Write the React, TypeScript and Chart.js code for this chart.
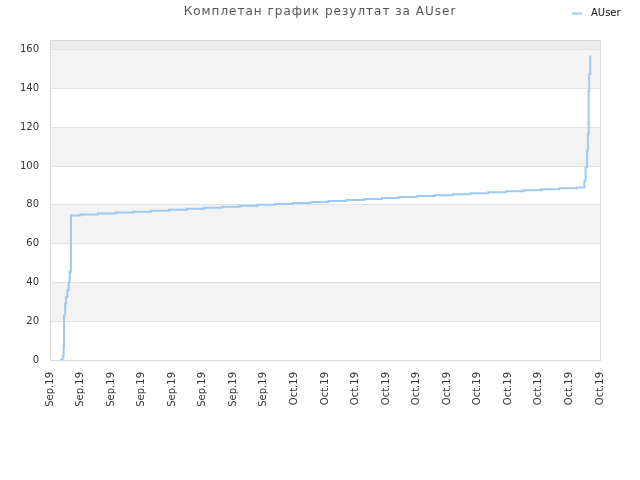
import React, { useEffect, useRef } from 'react';
import { Chart, registerables } from 'chart.js';

Chart.register(...registerables);

const titleText = 'Комплетан график резултат за AUser';
const seriesName = 'AUser';

// x axis is in days from the left edge of the chart
const tickLabels = [
  'Sep.19', 'Sep.19', 'Sep.19', 'Sep.19', 'Sep.19', 'Sep.19', 'Sep.19', 'Sep.19',
  'Oct.19', 'Oct.19', 'Oct.19', 'Oct.19', 'Oct.19', 'Oct.19', 'Oct.19', 'Oct.19',
  'Oct.19', 'Oct.19', 'Oct.19',
];
const yTicks = [0, 20, 40, 60, 80, 100, 120, 140, 160];

// first climb
const riseDays = [0.56, 0.72, 0.77, 0.79, 0.85, 0.9, 0.98, 1.05, 1.11, 1.18];
const riseValues = [0, 2, 7, 23, 29, 32.5, 36, 40, 45.5, 74.5];

// slow daily growth
const dailyDays = [
  1.7, 2.7, 3.7, 4.7, 5.7, 6.7, 7.7, 8.7, 9.7, 10.7, 11.7, 12.7, 13.7, 14.7, 15.7,
  16.7, 17.7, 18.7, 19.7, 20.7, 21.7, 22.7, 23.7, 24.7, 25.7, 26.7, 27.7, 28.7, 29.7,
];
const dailyValues = [
  75, 75.5, 76, 76.5, 77, 77.5, 78, 78.5, 79, 79.5, 80, 80.5, 81, 81.5, 82,
  82.5, 83, 83.5, 84, 84.5, 85, 85.5, 86, 86.5, 87, 87.5, 88, 88.5, 89,
];

// final jump
const finalDays = [30.12, 30.19, 30.27, 30.32, 30.36, 30.39, 30.45];
const finalValues = [92.6, 99.4, 108, 116.7, 139, 147.5, 157];

const yMin = 0;
const yMax = 165;
const xMin = 0;
const xMax = 31;

const lineColor = '#9dc9f3';

const toPoints = (days, values) => days.map((d, i) => ({ x: d, y: values[i] }));

// alternating bands, frame, title and legend
const decorPlugin = {
  id: 'decor',
  beforeDraw(chart) {
    const { ctx, chartArea, scales } = chart;
    const y = scales.y;
    const w = chartArea.right - chartArea.left;
    ctx.save();
    for (let i = 1; i < yTicks.length - 1; i += 2) {
      const top = y.getPixelForValue(yTicks[i + 1]);
      const bottom = y.getPixelForValue(yTicks[i]);
      ctx.fillStyle = '#f3f3f3';
      ctx.fillRect(chartArea.left, top, w, bottom - top);
    }
    const last = yTicks[yTicks.length - 1];
    if (last < yMax) {
      const top = y.getPixelForValue(yMax);
      const bottom = y.getPixelForValue(last);
      ctx.fillStyle = '#ececec';
      ctx.fillRect(chartArea.left, top, w, bottom - top);
    }
    ctx.restore();
  },
  beforeDatasetsDraw(chart) {
    const { ctx, chartArea } = chart;
    ctx.save();
    ctx.strokeStyle = '#d9d9d9';
    ctx.lineWidth = 1;
    ctx.strokeRect(
      Math.round(chartArea.left) + 0.5,
      Math.round(chartArea.top) + 0.5,
      Math.round(chartArea.right - chartArea.left),
      Math.round(chartArea.bottom - chartArea.top)
    );
    ctx.restore();
  },
  afterDraw(chart) {
    const { ctx } = chart;
    ctx.save();
    ctx.textBaseline = 'middle';
    ctx.fillStyle = '#555555';
    ctx.font = '12px "DejaVu Sans"';
    ctx.letterSpacing = '1px';
    ctx.textAlign = 'center';
    ctx.fillText(titleText, 320, 12);

    ctx.letterSpacing = '0px';
    ctx.strokeStyle = lineColor;
    ctx.lineWidth = 2;
    ctx.beginPath();
    ctx.moveTo(572, 13.5);
    ctx.lineTo(582, 13.5);
    ctx.stroke();
    ctx.fillStyle = '#111111';
    ctx.font = '10px "DejaVu Sans"';
    ctx.textAlign = 'left';
    ctx.fillText(seriesName, 591, 13);
    ctx.restore();
  },
};

export default function App() {
  const chartRef = useRef(null);
  const chartInstance = useRef(null);

  useEffect(() => {
    if (!chartRef.current) return;
    if (chartInstance.current) chartInstance.current.destroy();

    Chart.defaults.font.family = '"DejaVu Sans", sans-serif';

    const data = [
      ...toPoints(riseDays, riseValues),
      ...toPoints(dailyDays, dailyValues),
      ...toPoints(finalDays, finalValues),
    ];

    chartInstance.current = new Chart(chartRef.current, {
      type: 'line',
      data: {
        datasets: [
          {
            label: seriesName,
            data,
            borderColor: lineColor,
            borderWidth: 2,
            pointRadius: 0,
            fill: false,
            stepped: true,
            tension: 0,
          },
        ],
      },
      plugins: [decorPlugin],
      options: {
        animation: false,
        responsive: true,
        maintainAspectRatio: false,
        layout: { padding: { left: 0, right: 40, top: 40, bottom: 0 } },
        plugins: {
          legend: { display: false },
          title: { display: false },
          tooltip: { enabled: false },
        },
        scales: {
          x: {
            type: 'linear',
            min: xMin,
            max: xMax,
            afterBuildTicks(scale) {
              const n = tickLabels.length - 1;
              scale.ticks = tickLabels.map((_, i) => ({ value: xMin + ((xMax - xMin) * i) / n }));
            },
            afterFit(scale) {
              scale.height = 120;
            },
            grid: { display: false, drawTicks: false },
            border: { display: false },
            ticks: {
              autoSkip: false,
              minRotation: 90,
              maxRotation: 90,
              padding: 12,
              color: '#333333',
              font: { size: 10 },
              callback: (_v, i) => tickLabels[i],
            },
          },
          y: {
            min: yMin,
            max: yMax,
            afterBuildTicks(scale) {
              scale.ticks = yTicks.map((v) => ({ value: v }));
            },
            afterFit(scale) {
              scale.width = 50;
            },
            grid: { color: '#e2e2e2', drawTicks: false },
            border: { display: false },
            ticks: {
              padding: 11,
              color: '#333333',
              font: { size: 10 },
            },
          },
        },
      },
    });

    return () => {
      if (chartInstance.current) {
        chartInstance.current.destroy();
        chartInstance.current = null;
      }
    };
  }, []);

  return (
    <div style={{ position: 'absolute', left: 0, top: 0, width: 640, height: 480 }}>
      <canvas ref={chartRef}></canvas>
    </div>
  );
}
